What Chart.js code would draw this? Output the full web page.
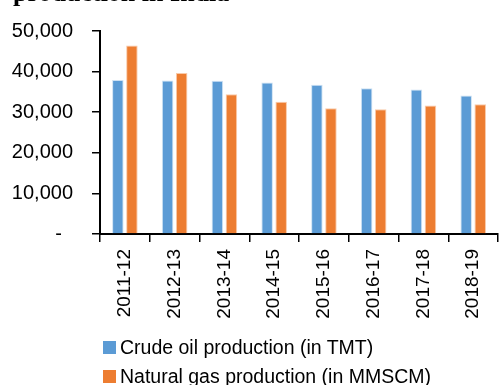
<!DOCTYPE html>
<html>
<head>
<meta charset="utf-8">
<script src="https://cdn.jsdelivr.net/npm/chart.js@4/dist/chart.umd.min.js"></script>
<style>
  html, body { margin: 0; padding: 0; background: #fff; overflow: hidden; }
  #wrap { position: relative; width: 503px; height: 385px; overflow: hidden; }
  #chart { position: absolute; left: 0; top: 0; }
  #heading {
    position: absolute; left: 13px; top: -20.5px;
    font: bold 26px/26px "Liberation Serif", "Times New Roman", serif;
    color: #000; white-space: nowrap;
  }
  #legend { position: absolute; left: 103px; top: 333px; }
  .legend-row {
    display: flex; align-items: center; height: 29px;
    font: 19.5px/29px "Liberation Sans", Arial, sans-serif; color: #000; white-space: nowrap;
  }
  .legend-swatch { width: 13px; height: 13px; margin-right: 4px; flex: none; }
</style>
</head>
<body>
<div id="wrap">
  <canvas id="chart" width="503" height="385"></canvas>
  <div id="heading">production in India</div>
  <div id="legend"></div>
</div>
<script>
// Fiscal years on the category axis
const years = ['2011-12', '2012-13', '2013-14', '2014-15', '2015-16', '2016-17', '2017-18', '2018-19'];

// Crude oil production, thousand metric tonnes
const crudeOil = [37960, 37820, 37730, 37330, 36770, 35890, 35570, 34130];

// Natural gas production, million standard cubic metres
const naturalGas = [46400, 39650, 34450, 32600, 31000, 30700, 31650, 31950];

// Value-axis labels (accounting style: zero shown as a dash)
const yTickLabels = ['-  ', '10,000', '20,000', '30,000', '40,000', '50,000'];

const seriesNames = ['Crude oil production (in TMT)', 'Natural gas production (in MMSCM)'];
const seriesColors = ['#5B9BD5', '#ED7D31'];

Chart.defaults.font.family = '"Liberation Sans", Arial, sans-serif';
Chart.defaults.font.size = 19;
Chart.defaults.color = '#000';

// Builds the HTML legend from the chart's own dataset list
const htmlLegend = {
  id: 'htmlLegend',
  afterUpdate(chart) {
    const box = document.getElementById('legend');
    box.innerHTML = '';
    const items = chart.options.plugins.legend.labels.generateLabels(chart);
    items.forEach(item => {
      const row = document.createElement('div');
      row.className = 'legend-row';
      const sw = document.createElement('span');
      sw.className = 'legend-swatch';
      sw.style.background = item.fillStyle;
      const tx = document.createElement('span');
      tx.textContent = item.text;
      row.appendChild(sw);
      row.appendChild(tx);
      box.appendChild(row);
    });
  }
};

const barStyle = {
  borderWidth: 1,
  borderSkipped: 'bottom',
  barPercentage: 0.82,
  categoryPercentage: 0.565
};

new Chart(document.getElementById('chart'), {
  type: 'bar',
  data: {
    labels: years,
    datasets: [
      Object.assign({
        label: seriesNames[0],
        data: crudeOil,
        backgroundColor: seriesColors[0],
        borderColor: 'rgba(200,222,242,0.9)'
      }, barStyle),
      Object.assign({
        label: seriesNames[1],
        data: naturalGas,
        backgroundColor: seriesColors[1],
        borderColor: 'rgba(248,196,160,0.9)'
      }, barStyle)
    ]
  },
  options: {
    responsive: false,
    animation: false,
    devicePixelRatio: 1,
    layout: { padding: { top: 25, left: 0, right: -1.5, bottom: 0 } },
    plugins: {
      legend: { display: false },
      tooltip: { enabled: false }
    },
    scales: {
      x: {
        grid: { display: true, drawOnChartArea: false, offset: true, tickLength: 8, color: '#000', lineWidth: 1.5 },
        border: { display: true, color: '#000', width: 2 },
        ticks: { minRotation: 90, maxRotation: 90, padding: 7, autoSkip: false, font: { size: 19 } },
        afterFit(scale) { scale.height = 151; }
      },
      y: {
        min: 0,
        max: 50000,
        grid: { display: true, drawOnChartArea: false, tickLength: 8, color: '#000', lineWidth: 1.5 },
        border: { display: true, color: '#000', width: 2 },
        ticks: {
          stepSize: 10000,
          padding: 19,
          font: { size: 20 },
          callback: (value, index) => yTickLabels[index]
        },
        afterFit(scale) { scale.width = 100; }
      }
    }
  },
  plugins: [htmlLegend]
});
</script>
</body>
</html>
